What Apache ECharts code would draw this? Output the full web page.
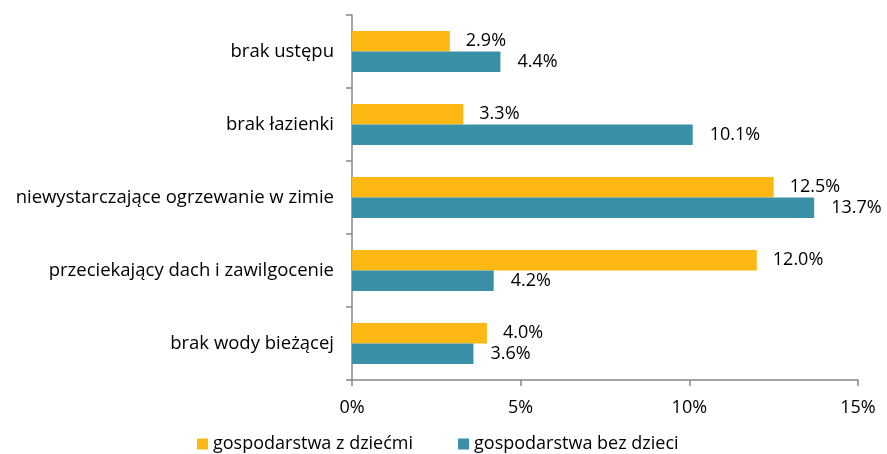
<!DOCTYPE html>
<html>
<head>
<meta charset="utf-8">
<script src="https://cdn.jsdelivr.net/npm/echarts@6/dist/echarts.min.js"></script>
<style>
  html, body { margin: 0; padding: 0; background: #fff; }
  #chart { width: 887px; height: 454px; }
</style>
</head>
<body>
<div id="chart"></div>
<script>
// categories from top to bottom
var categories = [
  'brak ustępu',
  'brak łazienki',
  'niewystarczające ogrzewanie w zimie',
  'przeciekający dach i zawilgocenie',
  'brak wody bieżącej'
];
var withChildren = [2.9, 3.3, 12.5, 12.0, 4.0];
var withoutChildren = [4.4, 10.1, 13.7, 4.2, 3.6];
var seriesNames = ['gospodarstwa z dziećmi', 'gospodarstwa bez dzieci'];

var font = '"Open Sans", "DejaVu Sans", sans-serif';

var chart = echarts.init(document.getElementById('chart'));

function labelFmt(p) {
  return p.value.toFixed(1) + '%';
}

chart.setOption({
  animation: false,
  textStyle: { fontFamily: font },
  grid: { left: 352, right: 29, top: 15, bottom: 74, containLabel: false },
  legend: {
    top: 430,
    left: 192,
    itemWidth: 11,
    itemHeight: 11,
    itemGap: 45,
    icon: 'rect',
    textStyle: { fontSize: 18, color: '#000', fontFamily: font },
    data: seriesNames
  },
  xAxis: {
    type: 'value',
    min: 0,
    max: 15,
    interval: 5,
    axisLine: { show: true, lineStyle: { color: '#888', width: 1.5 } },
    axisTick: { show: true, length: 6, lineStyle: { color: '#888', width: 1.5 } },
    splitLine: { show: false },
    axisLabel: {
      formatter: '{value}%',
      fontSize: 18,
      color: '#000',
      margin: 19,
      fontFamily: font
    }
  },
  yAxis: {
    type: 'category',
    inverse: true,
    data: categories,
    axisLine: { show: true, lineStyle: { color: '#888', width: 1.5 } },
    axisTick: { show: true, length: 6, lineStyle: { color: '#888', width: 1.5 } },
    axisLabel: { fontSize: 18.5, color: '#000', margin: 18, fontFamily: font }
  },
  series: [
    {
      name: seriesNames[0],
      type: 'bar',
      data: withChildren,
      barGap: '0%',
      barCategoryGap: '44%',
      itemStyle: { color: '#FDB813' },
      label: {
        show: true,
        position: 'right',
        distance: 16,
        formatter: labelFmt,
        fontSize: 18,
        color: '#000',
        fontFamily: font
      }
    },
    {
      name: seriesNames[1],
      type: 'bar',
      data: withoutChildren,
      barGap: '0%',
      barCategoryGap: '44%',
      itemStyle: { color: '#3A91A7' },
      label: {
        show: true,
        position: 'right',
        distance: 17,
        formatter: labelFmt,
        fontSize: 18,
        color: '#000',
        fontFamily: font
      }
    }
  ]
});
</script>
</body>
</html>
